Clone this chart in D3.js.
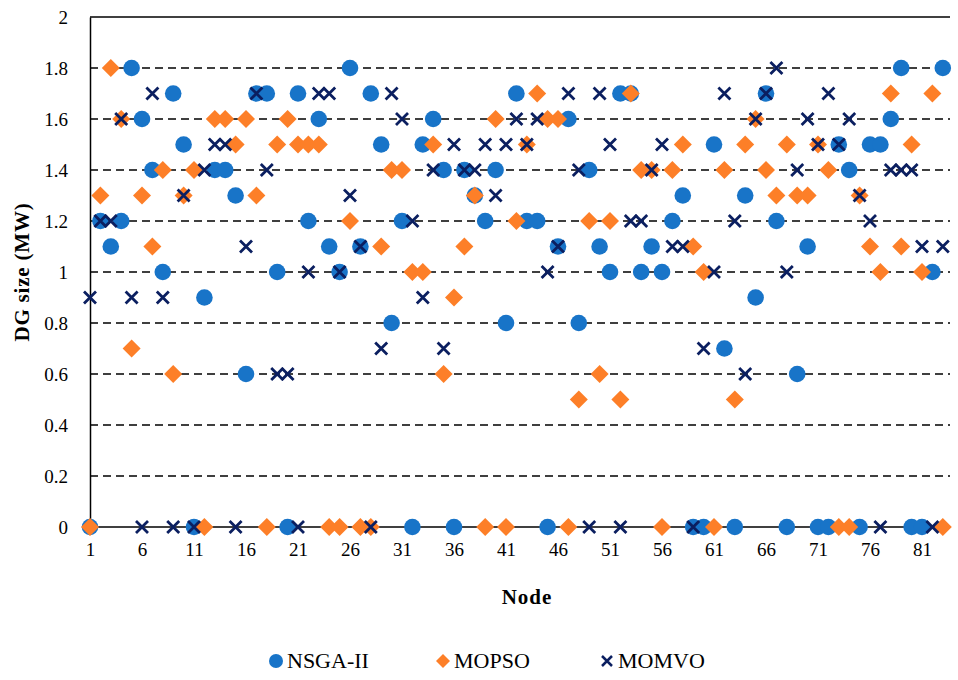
<!DOCTYPE html>
<html>
<head>
<meta charset="utf-8">
<script src="https://cdn.jsdelivr.net/npm/d3@7"></script>
<style>
  body { margin: 0; background: #fff; }
  svg text { font-family: "Liberation Serif", "DejaVu Serif", serif; fill: #000; }
</style>
</head>
<body>
<svg width="958" height="680"></svg>
<script>
// node numbers and DG sizes (MW)
var nodes = d3.range(1, 84);
var xTicks = [1, 6, 11, 16, 21, 26, 31, 36, 41, 46, 51, 56, 61, 66, 71, 76, 81];
var yTicks = [0, 0.2, 0.4, 0.6, 0.8, 1, 1.2, 1.4, 1.6, 1.8, 2];

var nsga = [0, 1.2, 1.1, 1.2, 1.8, 1.6, 1.4, 1.0, 1.7, 1.5,
            0, 0.9, 1.4, 1.4, 1.3, 0.6, 1.7, 1.7, 1.0, 0,
            1.7, 1.2, 1.6, 1.1, 1.0, 1.8, 1.1, 1.7, 1.5, 0.8,
            1.2, 0, 1.5, 1.6, 1.4, 0, 1.4, 1.3, 1.2, 1.4,
            0.8, 1.7, 1.2, 1.2, 0, 1.1, 1.6, 0.8, 1.4, 1.1,
            1.0, 1.7, 1.7, 1.0, 1.1, 1.0, 1.2, 1.3, 0, 0,
            1.5, 0.7, 0, 1.3, 0.9, 1.7, 1.2, 0, 0.6, 1.1,
            0, 0, 1.5, 1.4, 0, 1.5, 1.5, 1.6, 1.8, 0,
            0, 1.0, 1.8];

var mopso = [0, 1.3, 1.8, 1.6, 0.7, 1.3, 1.1, 1.4, 0.6, 1.3,
             1.4, 0, 1.6, 1.6, 1.5, 1.6, 1.3, 0, 1.5, 1.6,
             1.5, 1.5, 1.5, 0, 0, 1.2, 0, 0, 1.1, 1.4,
             1.4, 1.0, 1.0, 1.5, 0.6, 0.9, 1.1, 1.3, 0, 1.6,
             0, 1.2, 1.5, 1.7, 1.6, 1.6, 0, 0.5, 1.2, 0.6,
             1.2, 0.5, 1.7, 1.4, 1.4, 0, 1.4, 1.5, 1.1, 1.0,
             0, 1.4, 0.5, 1.5, 1.6, 1.4, 1.3, 1.5, 1.3, 1.3,
             1.5, 1.4, 0, 0, 1.3, 1.1, 1.0, 1.7, 1.1, 1.5,
             1.0, 1.7, 0];

var momvo = [0.9, 1.2, 1.2, 1.6, 0.9, 0, 1.7, 0.9, 0, 1.3,
             0, 1.4, 1.5, 1.5, 0, 1.1, 1.7, 1.4, 0.6, 0.6,
             0, 1.0, 1.7, 1.7, 1.0, 1.3, 1.1, 0, 0.7, 1.7,
             1.6, 1.2, 0.9, 1.4, 0.7, 1.5, 1.4, 1.4, 1.5, 1.3,
             1.5, 1.6, 1.5, 1.6, 1.0, 1.1, 1.7, 1.4, 0, 1.7,
             1.5, 0, 1.2, 1.2, 1.4, 1.5, 1.1, 1.1, 0, 0.7,
             1.0, 1.7, 1.2, 0.6, 1.6, 1.7, 1.8, 1.0, 1.4, 1.6,
             1.5, 1.7, 1.5, 1.6, 1.3, 1.2, 0, 1.4, 1.4, 1.4,
             1.1, 0, 1.1];

var svg = d3.select("svg");
var plotLeft = 90, plotRight = 950, plotTop = 17, plotBottom = 527;

var x = d3.scaleLinear().domain([1, 83]).range([plotLeft, 942.8]);
var y = d3.scaleLinear().domain([0, 2]).range([plotBottom, plotTop]);

// dashed gridlines
svg.append("g").selectAll("line")
    .data(yTicks.filter(function(d) { return d > 0 && d < 2; }))
    .enter().append("line")
    .attr("x1", plotLeft).attr("x2", plotRight)
    .attr("y1", function(d) { return y(d); })
    .attr("y2", function(d) { return y(d); })
    .attr("stroke", "#000")
    .attr("stroke-width", 1.3)
    .attr("stroke-dasharray", "8,5");

// top border line
svg.append("line")
    .attr("x1", plotLeft).attr("x2", plotRight)
    .attr("y1", y(2)).attr("y2", y(2))
    .attr("stroke", "#000").attr("stroke-width", 1.5);

// y axis
var yAxis = svg.append("g")
    .attr("transform", "translate(" + plotLeft + ",0)")
    .call(d3.axisLeft(y).tickValues(yTicks).tickSize(0).tickPadding(22)
        .tickFormat(function(d) { return String(+d.toFixed(1)); }));
yAxis.select(".domain").attr("stroke", "#000").attr("stroke-width", 1.5);
yAxis.selectAll("text").style("font-size", "19px")
    .style("font-family", "Liberation Serif, serif");

// x axis
var xAxis = svg.append("g")
    .attr("transform", "translate(0," + plotBottom + ")")
    .call(d3.axisBottom(x).tickValues(xTicks).tickSize(0).tickPadding(16)
        .tickFormat(d3.format("d")));
xAxis.select(".domain").attr("d", "M" + plotLeft + ",0H" + plotRight)
    .attr("stroke", "#000").attr("stroke-width", 1.5);
xAxis.selectAll("text").style("font-size", "19px")
    .style("font-family", "Liberation Serif, serif");

// axis titles
svg.append("text")
    .attr("x", 527).attr("y", 604)
    .attr("text-anchor", "middle")
    .style("font-size", "21px").style("font-weight", "bold")
    .style("letter-spacing", "1px")
    .text("Node");

svg.append("text")
    .attr("transform", "translate(29,272) rotate(-90)")
    .attr("text-anchor", "middle")
    .style("font-size", "21px").style("font-weight", "bold")
    .style("letter-spacing", "0.8px")
    .text("DG size (MW)");

var diamond = "M0,-9L9,0L0,9L-9,0Z";
var cross = "M-6,-6L6,6M6,-6L-6,6";

// NSGA-II circles
svg.append("g").selectAll("circle")
    .data(nodes).enter().append("circle")
    .attr("cx", function(d) { return x(d); })
    .attr("cy", function(d, i) { return y(nsga[i]); })
    .attr("r", 8.3)
    .attr("fill", "#1874C8");

// MOPSO diamonds
svg.append("g").selectAll("path")
    .data(nodes).enter().append("path")
    .attr("transform", function(d, i) { return "translate(" + x(d) + "," + y(mopso[i]) + ")"; })
    .attr("d", diamond)
    .attr("fill", "#FD7F28");

// MOMVO crosses
svg.append("g").selectAll("path")
    .data(nodes).enter().append("path")
    .attr("transform", function(d, i) { return "translate(" + x(d) + "," + y(momvo[i]) + ")"; })
    .attr("d", cross)
    .attr("fill", "none")
    .attr("stroke", "#0B1F60")
    .attr("stroke-width", 2.8);

// legend
var legend = svg.append("g").attr("transform", "translate(0,661)");
legend.append("circle").attr("cx", 276).attr("cy", 0).attr("r", 7).attr("fill", "#1874C8");
legend.append("text").attr("x", 287).attr("y", 7).style("font-size", "22px").text("NSGA-II");
legend.append("path").attr("transform", "translate(443,0)")
    .attr("d", "M0,-7L7,0L0,7L-7,0Z").attr("fill", "#FD7F28");
legend.append("text").attr("x", 454).attr("y", 7).style("font-size", "22px").text("MOPSO");
legend.append("path").attr("transform", "translate(607,0)")
    .attr("d", "M-5,-5L5,5M5,-5L-5,5").attr("fill", "none")
    .attr("stroke", "#0B1F60").attr("stroke-width", 2.5);
legend.append("text").attr("x", 618).attr("y", 7).style("font-size", "22px").text("MOMVO");
</script>
</body>
</html>
